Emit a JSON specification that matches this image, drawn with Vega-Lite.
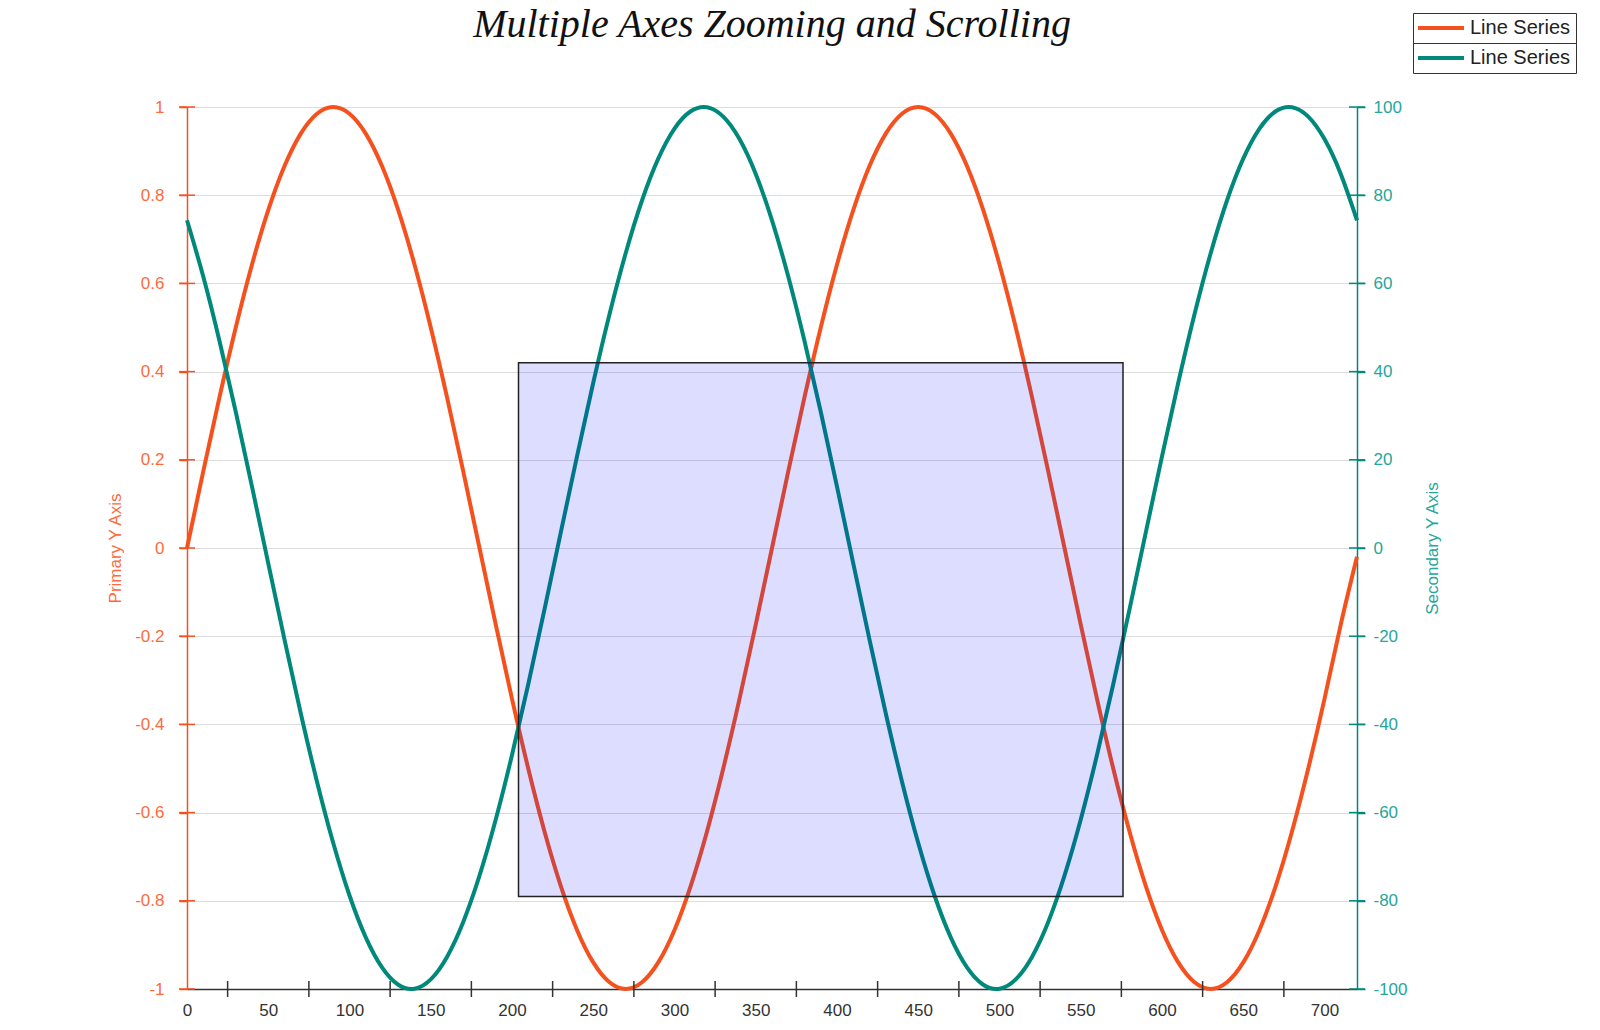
{
  "$schema": "https://vega.github.io/schema/vega-lite/v6.json",
  "description": "Two sine-like series on a primary and a secondary y axis, with a zoom selection box.",
  "width": 1170,
  "height": 882,
  "autosize": {"type": "none"},
  "padding": {"left": 187, "top": 107, "right": 243, "bottom": 41},
  "background": "white",
  "title": {
    "text": "Multiple Axes Zooming and Scrolling",
    "font": "Liberation Serif",
    "fontStyle": "italic",
    "fontWeight": "normal",
    "fontSize": 40,
    "color": "#111111",
    "anchor": "middle",
    "offset": -32
  },
  "datasets": {
    "waves": [
      {"x": 0, "p": 0, "s": 74.31},
      {"x": 10, "p": 0.1736, "s": 61.57},
      {"x": 20, "p": 0.342, "s": 46.95},
      {"x": 30, "p": 0.5, "s": 30.9},
      {"x": 40, "p": 0.6428, "s": 13.92},
      {"x": 50, "p": 0.766, "s": -3.49},
      {"x": 60, "p": 0.866, "s": -20.79},
      {"x": 70, "p": 0.9397, "s": -37.46},
      {"x": 80, "p": 0.9848, "s": -52.99},
      {"x": 90, "p": 1, "s": -66.91},
      {"x": 100, "p": 0.9848, "s": -78.8},
      {"x": 110, "p": 0.9397, "s": -88.29},
      {"x": 120, "p": 0.866, "s": -95.11},
      {"x": 130, "p": 0.766, "s": -99.03},
      {"x": 140, "p": 0.6428, "s": -99.94},
      {"x": 150, "p": 0.5, "s": -97.81},
      {"x": 160, "p": 0.342, "s": -92.72},
      {"x": 170, "p": 0.1736, "s": -84.8},
      {"x": 180, "p": 0, "s": -74.31},
      {"x": 190, "p": -0.1736, "s": -61.57},
      {"x": 200, "p": -0.342, "s": -46.95},
      {"x": 210, "p": -0.5, "s": -30.9},
      {"x": 220, "p": -0.6428, "s": -13.92},
      {"x": 230, "p": -0.766, "s": 3.49},
      {"x": 240, "p": -0.866, "s": 20.79},
      {"x": 250, "p": -0.9397, "s": 37.46},
      {"x": 260, "p": -0.9848, "s": 52.99},
      {"x": 270, "p": -1, "s": 66.91},
      {"x": 280, "p": -0.9848, "s": 78.8},
      {"x": 290, "p": -0.9397, "s": 88.29},
      {"x": 300, "p": -0.866, "s": 95.11},
      {"x": 310, "p": -0.766, "s": 99.03},
      {"x": 320, "p": -0.6428, "s": 99.94},
      {"x": 330, "p": -0.5, "s": 97.81},
      {"x": 340, "p": -0.342, "s": 92.72},
      {"x": 350, "p": -0.1736, "s": 84.8},
      {"x": 360, "p": 0, "s": 74.31},
      {"x": 370, "p": 0.1736, "s": 61.57},
      {"x": 380, "p": 0.342, "s": 46.95},
      {"x": 390, "p": 0.5, "s": 30.9},
      {"x": 400, "p": 0.6428, "s": 13.92},
      {"x": 410, "p": 0.766, "s": -3.49},
      {"x": 420, "p": 0.866, "s": -20.79},
      {"x": 430, "p": 0.9397, "s": -37.46},
      {"x": 440, "p": 0.9848, "s": -52.99},
      {"x": 450, "p": 1, "s": -66.91},
      {"x": 460, "p": 0.9848, "s": -78.8},
      {"x": 470, "p": 0.9397, "s": -88.29},
      {"x": 480, "p": 0.866, "s": -95.11},
      {"x": 490, "p": 0.766, "s": -99.03},
      {"x": 500, "p": 0.6428, "s": -99.94},
      {"x": 510, "p": 0.5, "s": -97.81},
      {"x": 520, "p": 0.342, "s": -92.72},
      {"x": 530, "p": 0.1736, "s": -84.8},
      {"x": 540, "p": 0, "s": -74.31},
      {"x": 550, "p": -0.1736, "s": -61.57},
      {"x": 560, "p": -0.342, "s": -46.95},
      {"x": 570, "p": -0.5, "s": -30.9},
      {"x": 580, "p": -0.6428, "s": -13.92},
      {"x": 590, "p": -0.766, "s": 3.49},
      {"x": 600, "p": -0.866, "s": 20.79},
      {"x": 610, "p": -0.9397, "s": 37.46},
      {"x": 620, "p": -0.9848, "s": 52.99},
      {"x": 630, "p": -1, "s": 66.91},
      {"x": 640, "p": -0.9848, "s": 78.8},
      {"x": 650, "p": -0.9397, "s": 88.29},
      {"x": 660, "p": -0.866, "s": 95.11},
      {"x": 670, "p": -0.766, "s": 99.03},
      {"x": 680, "p": -0.6428, "s": 99.94},
      {"x": 690, "p": -0.5, "s": 97.81},
      {"x": 700, "p": -0.342, "s": 92.72},
      {"x": 710, "p": -0.1736, "s": 84.8},
      {"x": 720, "p": -0.02, "s": 74.31}
    ],
    "box": [{"x1": 204, "x2": 576, "y1": 0.42, "y2": -0.79}],
    "xticks": [
      {"x": 25}, {"x": 75}, {"x": 125}, {"x": 175}, {"x": 225}, {"x": 275}, {"x": 325},
      {"x": 375}, {"x": 425}, {"x": 475}, {"x": 525}, {"x": 575}, {"x": 625}, {"x": 675}
    ],
    "yticks": [
      {"y": -1}, {"y": -0.8}, {"y": -0.6}, {"y": -0.4}, {"y": -0.2}, {"y": 0},
      {"y": 0.2}, {"y": 0.4}, {"y": 0.6}, {"y": 0.8}, {"y": 1}
    ]
  },
  "layer": [
    {
      "data": {"name": "waves"},
      "mark": {"type": "line", "strokeWidth": 4, "interpolate": "natural"},
      "encoding": {
        "x": {
          "field": "x",
          "type": "quantitative",
          "title": null,
          "scale": {"domain": [0, 720], "nice": false},
          "axis": {
            "values": [0, 50, 100, 150, 200, 250, 300, 350, 400, 450, 500, 550, 600, 650, 700],
            "ticks": false,
            "tickSize": 0,
            "labelPadding": 13,
            "labelFontSize": 17,
            "labelColor": "#333333",
            "labelFlush": false,
            "labelOverlap": false,
            "domainColor": "#333333",
            "domainWidth": 1.5,
            "grid": false
          }
        },
        "y": {
          "field": "p",
          "type": "quantitative",
          "scale": {"domain": [-1, 1], "nice": false},
          "axis": {
            "orient": "left",
            "values": [-1, -0.8, -0.6, -0.4, -0.2, 0, 0.2, 0.4, 0.6, 0.8, 1],
            "labelExpr": "'' + datum.value",
            "labelFontSize": 17,
            "labelColor": "#ff6a3d",
            "labelPadding": 15,
            "labelFlush": false,
            "labelOverlap": false,
            "tickSize": 8,
            "tickColor": "#f4511e",
            "tickWidth": 1.5,
            "domainColor": "#f4511e",
            "domainWidth": 1.5,
            "grid": true,
            "gridColor": "#dcdcdc",
            "gridWidth": 1,
            "title": "Primary Y Axis",
            "titleColor": "#ff6a3d",
            "titleFontSize": 17,
            "titleFontWeight": "normal",
            "titleAngle": 270,
            "titleAlign": "center",
            "titleBaseline": "middle",
            "titleX": -72,
            "titleY": 441
          }
        },
        "stroke": {
          "datum": "Line Series",
          "scale": {"range": ["#f4511e"]},
          "legend": {"orient": "none", "legendX": 1226, "legendY": -94, "title": null}
        }
      }
    },
    {
      "data": {"name": "waves"},
      "mark": {"type": "line", "strokeWidth": 4, "interpolate": "natural"},
      "encoding": {
        "x": {"field": "x", "type": "quantitative", "title": null},
        "y": {
          "field": "s",
          "type": "quantitative",
          "scale": {"domain": [-100, 100], "nice": false},
          "axis": {
            "orient": "right",
            "values": [-100, -80, -60, -40, -20, 0, 20, 40, 60, 80, 100],
            "labelExpr": "'' + datum.value",
            "labelFontSize": 17,
            "labelColor": "#26a69a",
            "labelPadding": 8,
            "labelFlush": false,
            "labelOverlap": false,
            "tickSize": 8,
            "tickColor": "#00897b",
            "tickWidth": 1.5,
            "domainColor": "#00897b",
            "domainWidth": 1.5,
            "grid": false,
            "title": "Secondary Y Axis",
            "titleColor": "#26a69a",
            "titleFontSize": 17,
            "titleFontWeight": "normal",
            "titleAngle": 270,
            "titleAlign": "center",
            "titleBaseline": "middle",
            "titleX": 75,
            "titleY": 441
          }
        },
        "stroke": {
          "datum": "Line Series",
          "scale": {"range": ["#00897b"]},
          "legend": {"orient": "none", "legendX": 1226, "legendY": -64, "title": null}
        }
      }
    },
    {
      "data": {"name": "box"},
      "mark": {
        "type": "rect",
        "fill": "#0000ff",
        "fillOpacity": 0.135,
        "stroke": "#222222",
        "strokeWidth": 1.5
      },
      "encoding": {
        "x": {"field": "x1", "type": "quantitative", "title": null},
        "x2": {"field": "x2"},
        "y": {
          "field": "y1",
          "type": "quantitative",
          "scale": {"domain": [-1, 1], "nice": false},
          "axis": null
        },
        "y2": {"field": "y2"}
      }
    },
    {
      "data": {"name": "xticks"},
      "mark": {"type": "tick", "orient": "vertical", "size": 16, "thickness": 1.5, "color": "#333333", "opacity": 1},
      "encoding": {
        "x": {"field": "x", "type": "quantitative", "title": null},
        "y": {
          "datum": -1,
          "type": "quantitative",
          "scale": {"domain": [-1, 1], "nice": false},
          "axis": null
        }
      }
    },
    {
      "data": {"name": "yticks"},
      "mark": {"type": "tick", "orient": "horizontal", "size": 16, "thickness": 1.5, "color": "#f4511e", "opacity": 1},
      "encoding": {
        "x": {"datum": 0, "type": "quantitative", "title": null},
        "y": {
          "field": "y",
          "type": "quantitative",
          "scale": {"domain": [-1, 1], "nice": false},
          "axis": null
        }
      }
    },
    {
      "data": {"name": "yticks"},
      "mark": {"type": "tick", "orient": "horizontal", "size": 16, "thickness": 1.5, "color": "#00897b", "opacity": 1},
      "encoding": {
        "x": {"datum": 720, "type": "quantitative", "title": null},
        "y": {
          "field": "y",
          "type": "quantitative",
          "scale": {"domain": [-1, 1], "nice": false},
          "axis": null
        }
      }
    }
  ],
  "resolve": {"scale": {"y": "independent", "stroke": "independent"}},
  "config": {
    "view": {"stroke": null},
    "axis": {"labelFont": "Liberation Sans", "titleFont": "Liberation Sans"},
    "legend": {
      "labelFont": "Liberation Sans",
      "labelFontSize": 20,
      "labelColor": "#222222",
      "labelOffset": 32,
      "symbolType": "M-2,0H7.2",
      "symbolSize": 100,
      "symbolStrokeWidth": 4,
      "strokeColor": "#333333",
      "padding": 5,
      "rowPadding": 0
    }
  }
}
